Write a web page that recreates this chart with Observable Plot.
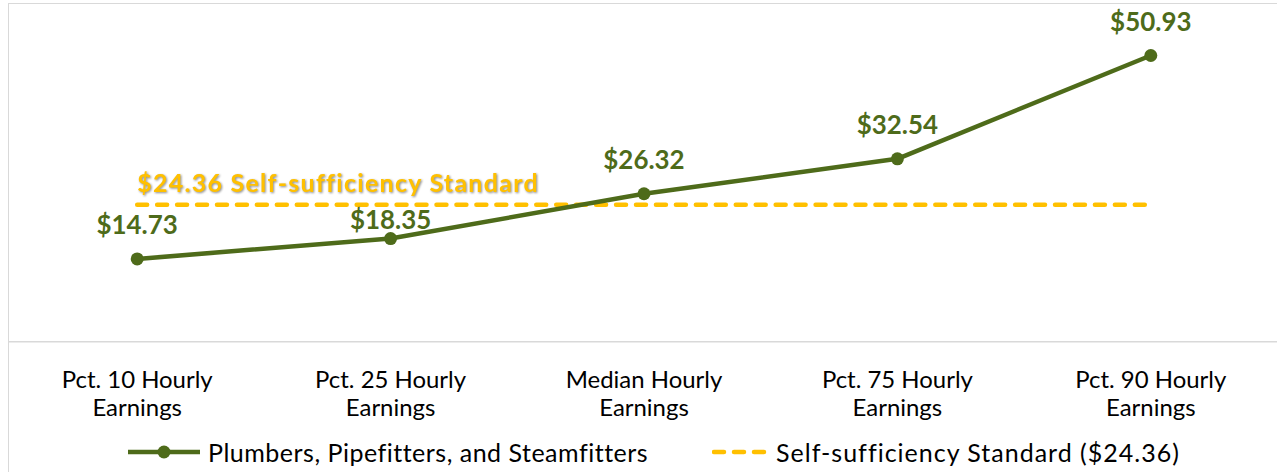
<!DOCTYPE html>
<html><head><meta charset="utf-8">
<script src="https://cdn.jsdelivr.net/npm/d3@7"></script>
<script src="https://cdn.jsdelivr.net/npm/@observablehq/plot@0.6"></script>
<style>
html,body{margin:0;padding:0;background:#fff;overflow:hidden;width:1277px;height:472px;font-family:Lato,"Noto Sans",sans-serif;}
#wrap{position:relative;width:1277px;height:472px;overflow:hidden;}
#frame{position:absolute;left:8px;top:3px;width:1300px;height:500px;border-left:1.5px solid #d9d9d9;border-top:1.5px solid #d9d9d9;box-sizing:border-box;}
#chart{position:absolute;left:0;top:0;}
#legend{position:absolute;top:432px;left:0;width:1277px;height:40px;display:flex;align-items:center;justify-content:flex-start;padding-left:128px;box-sizing:border-box;font-size:25px;letter-spacing:0.5px;color:#000;}
#legend .item{display:flex;align-items:center;}
#legend svg{margin-right:8px;}
</style>
</head><body>
<div id="wrap"><div id="frame"></div><div id="chart"></div><div id="legend"></div></div>
<script>
const categories = ["Pct. 10 Hourly\nEarnings","Pct. 25 Hourly\nEarnings","Median Hourly\nEarnings","Pct. 75 Hourly\nEarnings","Pct. 90 Hourly\nEarnings"];
const plumberWages = [14.73, 18.35, 26.32, 32.54, 50.93];
const standardWage = 24.36;
const seriesNames = ["Plumbers, Pipefitters, and Steamfitters", "Self-sufficiency Standard ($24.36)"];
const standardLabel = "$24.36 Self-sufficiency Standard";

const green = "#4e6b1a";
const gold = "#ffc000";
const rows = categories.map((c, i) => ({category: c, wage: plumberWages[i], standard: standardWage, idx: i}));

const labelText = d => "$" + d.wage.toFixed(2);
const chart = Plot.plot({
  width: 1280, height: 432,
  marginLeft: 9, marginRight: 0, marginTop: 4, marginBottom: 90,
  style: {fontFamily: 'Lato, "Noto Sans", sans-serif', background: "transparent", overflow: "visible"},
  x: {type: "point", domain: categories, padding: 0.5, axis: null},
  y: {domain: [0, 60], axis: null},
  marks: [
    Plot.ruleY([0], {stroke: "#d9d9d9", strokeWidth: 1.5}),
    Plot.axisX({tickSize: 0, tickPadding: 26, fontSize: 24, lineHeight: 1.17, fill: "#000", label: null}),
    Plot.line(rows, {x: "category", y: "standard", stroke: gold, strokeWidth: 4.5, strokeDasharray: "10,10", strokeLinecap: "round"}),
    Plot.line(rows, {x: "category", y: "wage", stroke: green, strokeWidth: 4.5}),
    Plot.dot(rows, {x: "category", y: "wage", r: 6.5, fill: green}),
    Plot.text(rows, {filter: d => d.idx !== 1, x: "category", y: "wage", text: labelText, dy: -33, fill: green, fontWeight: "bold", fontSize: 26}),
    Plot.text(rows, {filter: d => d.idx === 1, x: "category", y: "wage", text: labelText, dy: -18, fill: green, fontWeight: "bold", fontSize: 26}),
    Plot.text([standardLabel], {x: () => categories[0], y: () => standardWage, text: d => d, textAnchor: "start", dy: -21, fill: gold, fontWeight: "bold", fontSize: 25})
  ]
});
document.getElementById("chart").appendChild(chart);
chart.querySelectorAll("text").forEach(t => {
  if (t.textContent === standardLabel) {
    t.style.filter = "drop-shadow(1px 1.5px 1px rgba(0,0,0,0.45))";
    t.style.letterSpacing = "1.3px";
  }
});

const legend = document.getElementById("legend");
legend.innerHTML = `
<div class="item"><svg width="72" height="14"><line x1="0" y1="7" x2="72" y2="7" stroke="${green}" stroke-width="4.5"/><circle cx="36" cy="7" r="6.5" fill="${green}"/></svg><span>${seriesNames[0]}</span></div>
<div class="item" style="margin-left:64px"><svg width="56" height="14"><line x1="2" y1="7" x2="54" y2="7" stroke="${gold}" stroke-width="4.5" stroke-dasharray="10,10" stroke-linecap="round"/></svg><span style="letter-spacing:1px">${seriesNames[1]}</span></div>`;
</script>
</body></html>
